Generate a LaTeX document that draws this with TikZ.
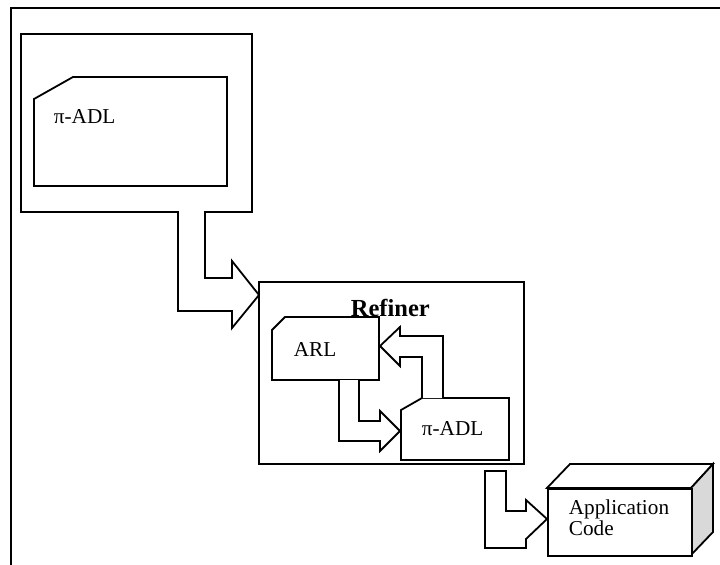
\documentclass[tikz,border=0pt]{standalone}
\usepackage{fontspec}
\setmainfont{Liberation Serif}
\begin{document}
\begin{tikzpicture}[x=1bp,y=-1bp,line width=1.8bp,line join=miter,
  label/.style={anchor=base west,inner sep=0pt,font=\fontsize{21.3}{22}\selectfont},
  docshape/.style={draw,fill=white},
  blockarrow/.style={draw,fill=white}]
\useasboundingbox (0,0) rectangle (720,565);

% clipped outer frame
\coordinate (frameBL) at (11,565);
\coordinate (frameTL) at (11,8);
\coordinate (frameTR) at (720,8);
\draw (frameBL) -- (frameTL) -- (frameTR);

% specification box with a pi-ADL document
\node[draw,anchor=north west,inner sep=0pt,minimum width=231bp,minimum height=178bp] (spec) at (20,33) {};
\draw[docshape] (34,99) -- (73,77) -- (227,77) -- (227,186) -- (34,186) -- cycle;
\node[label] (specdoc) at (53,124) {π-ADL};

% refiner box
\node[draw,anchor=north west,inner sep=0pt,minimum width=265bp,minimum height=182bp] (refiner) at (258,281) {};

% block arrow from the specification into the refiner
\draw[blockarrow] (178,211) -- (178,311) -- (232,311) -- (232,328) -- (259,295)
  -- (232,261) -- (232,278) -- (205,278) -- (205,211);

% ARL document
\draw[docshape] (272,330) -- (285,317) -- (379,317) -- (379,380) -- (272,380) -- cycle;
\node[label] (arl) at (293,356) {ARL};

% refiner title, set over the ARL document edge
\node[label,font=\fontsize{24.6}{26}\selectfont\bfseries] (reftitle) at (350,316) {Refiner};

% refined pi-ADL document
\draw[docshape] (401,410) -- (422,398) -- (509,398) -- (509,460) -- (401,460) -- cycle;
\node[label] (outdoc) at (421,435) {π-ADL};

% ARL -> pi-ADL
\draw[blockarrow] (339,380) -- (339,441) -- (380,441) -- (380,451) -- (400,431)
  -- (380,411) -- (380,421) -- (359,421) -- (359,380);

% pi-ADL -> ARL
\draw[blockarrow] (443,398) -- (443,336) -- (400,336) -- (400,327) -- (380,346)
  -- (400,366) -- (400,357) -- (422,357) -- (422,398);

% refiner output -> application code
\draw[blockarrow] (485,471) -- (485,548) -- (526,548) -- (526,539) -- (547,519)
  -- (526,500) -- (526,511) -- (506,511) -- (506,471) -- cycle;

% application code as a 3D box
\draw[fill=white] (547,488) -- (570,464) -- (713,464) -- (691,488) -- cycle;
\draw[fill=black!15] (691,488) -- (713,464) -- (713,532) -- (691,555) -- cycle;
\node[draw,fill=white,anchor=north west,inner sep=0pt,minimum width=144bp,minimum height=67bp] (app) at (547,488) {};
\node[label] (applbl1) at (568,514) {Application};
\node[label] (applbl2) at (568,535) {Code};
\end{tikzpicture}
\end{document}
